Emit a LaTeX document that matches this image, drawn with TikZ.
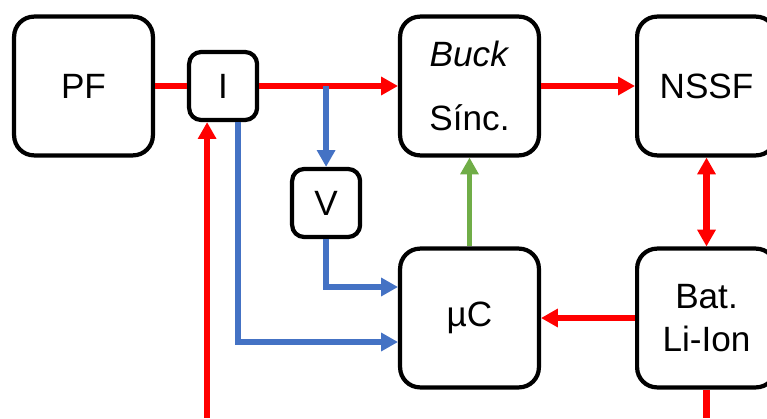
\documentclass[tikz,border=0pt]{standalone}
\usepackage{fontspec}
\setmainfont{Liberation Sans}
\usetikzlibrary{arrows.meta, positioning, calc}
\definecolor{cRed}{RGB}{255,0,0}
\definecolor{cBlue}{RGB}{68,114,196}
\definecolor{cGreen}{RGB}{112,173,71}
\tikzset{
	bigblk/.style  ={rectangle, rounded corners=0.5cm, draw=black, line width=3pt, minimum width=3.47cm, minimum height=3.47cm, align=center, fill=white},
	smallblk/.style={rectangle, rounded corners=0.3cm, draw=black, line width=3pt, minimum width=1.7cm, minimum height=1.7cm, align=center, fill=white},
	pwr/.style     ={line width=4.4pt, draw=cRed},
	pwrarrow/.style={pwr, -{Triangle[length=0.42cm, width=0.44cm]}},
	pwrboth/.style ={pwr, {Triangle[length=0.42cm, width=0.44cm]}-{Triangle[length=0.42cm, width=0.44cm]}},
	sns/.style     ={line width=4.2pt, draw=cBlue, -{Triangle[length=0.42cm, width=0.44cm]}},
	ctl/.style     ={line width=4.2pt, draw=cGreen, -{Triangle[length=0.42cm, width=0.44cm]}},
}
\begin{document}
\begin{tikzpicture}[font=\fontsize{25}{30}\selectfont, on grid]
	\useasboundingbox (0,0) rectangle (19.175,-10.45);
	\node[bigblk] (PF) at (2.0875,-2.15) {PF};
	\node[smallblk, right=3.49cm of PF] (I) {I};
	\node[bigblk, right=6.16cm of I] (buck) {\textit{Buck}\\[15pt]Sínc.};
	\node[bigblk, right=5.925cm of buck] (nssf) {NSSF};
	\node[bigblk, below=5.8cm of buck] (uC) {µC};
	\node[bigblk, below=5.8cm of nssf] (bat) {Bat.\\Li-Ion};
	\node[smallblk, below right=2.925cm and 2.575cm of I] (V) {V};
	% free ends at the lower edge
	\coordinate (bot) at (0,-10.45);
	\coordinate (Iin) at ([xshift=-0.4cm]I.south);
	\coordinate (Iout) at ([xshift=0.375cm]I.south);
	\coordinate (tap) at (V |- I);
	\draw[pwr] (PF) -- (I);
	\draw[pwrarrow] (I) -- (buck);
	\draw[pwrarrow] (buck) -- (nssf);
	\draw[pwrboth] (nssf) -- (bat);
	\draw[pwrarrow] (bat) -- (uC);
	\draw[pwr] (bat) -- (bat |- bot);
	\draw[pwrarrow] (Iin |- bot) -- (Iin);
	\draw[sns] (tap) -- (V);
	\draw[sns] (V) |- ([yshift=0.775cm]uC.west);
	\draw[sns] (Iout) |- ([yshift=-0.6cm]uC.west);
	\draw[ctl] (uC) -- (buck);
\end{tikzpicture}
\end{document}
